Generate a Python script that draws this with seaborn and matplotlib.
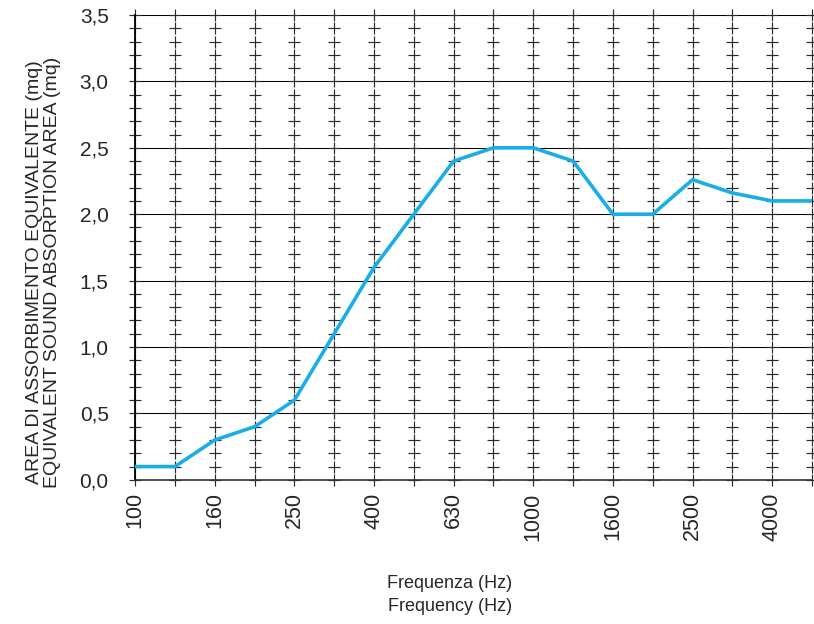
import numpy as np
import pandas as pd
import matplotlib
matplotlib.use("Agg")
import matplotlib.pyplot as plt
import seaborn as sns

# --- Data ---
FREQUENCIES = ["100", "125", "160", "200", "250", "315", "400", "500", "630",
               "800", "1000", "1250", "1600", "2000", "2500", "3150", "4000", "5000"]
ABSORPTION = [0.1, 0.1, 0.3, 0.4, 0.6, 1.1, 1.6, 2.0, 2.4,
              2.5, 2.5, 2.4, 2.0, 2.0, 2.26, 2.16, 2.1, 2.1]
Y_MAJOR = [0.0, 0.5, 1.0, 1.5, 2.0, 2.5, 3.0, 3.5]
Y_LABELS = ["0,0", "0,5", "1,0", "1,5", "2,0", "2,5", "3,0", "3,5"]

sns.set_style("white")
plt.rcParams["font.family"] = ["Liberation Sans", "DejaVu Sans"]

df = pd.DataFrame({"pos": np.arange(len(FREQUENCIES)), "area": ABSORPTION})

fig = plt.figure(figsize=(8.14, 6.24), dpi=100)
ax = fig.add_axes([0.166, 0.231, 0.8315, 0.745])

# horizontal grid lines
for y in Y_MAJOR:
    ax.axhline(y, color="black", lw=0.75, zorder=1)

# plus-marker grid at every band and every 0.1
gx, gy = np.meshgrid(df["pos"], np.round(np.arange(0, 3.51, 0.1), 1))
ax.plot(gx.ravel(), gy.ravel(), ls="none", marker="+", ms=8, mew=0.85,
        color="#2a2a2a", zorder=2, clip_on=False)

sns.lineplot(data=df, x="pos", y="area", color="#1aaee8", lw=2.6, ax=ax, zorder=3)

ax.set_xlim(0, len(FREQUENCIES) - 1)
ax.set_ylim(0, 3.5)
ax.set_xticks(df["pos"][::2])
ax.set_xticklabels(FREQUENCIES[::2], rotation=90, fontsize=15.5)
ax.set_yticks(Y_MAJOR)
ax.set_yticklabels(Y_LABELS, fontsize=15)
ax.tick_params(axis="both", length=0)
ax.tick_params(axis="y", pad=19)
ax.tick_params(axis="x", pad=9)

for side in ["top", "right"]:
    ax.spines[side].set_visible(False)
ax.spines["left"].set_color("black")
ax.spines["left"].set_linewidth(1.3)
ax.spines["bottom"].set_color("#333333")
ax.spines["bottom"].set_linewidth(1.2)

ax.set_xlabel("Frequenza (Hz)\nFrequency (Hz)", fontsize=13, linespacing=1.45)
ax.xaxis.set_label_coords(0.465, -0.205)
ax.set_ylabel("AREA DI ASSORBIMENTO EQUIVALENTE (mq)\nEQUIVALENT SOUND ABSORPTION AREA (mq)",
              fontsize=14, linespacing=1.05)
ax.yaxis.set_label_coords(-0.110, 0.447)

fig.savefig("out.png", dpi=100)
